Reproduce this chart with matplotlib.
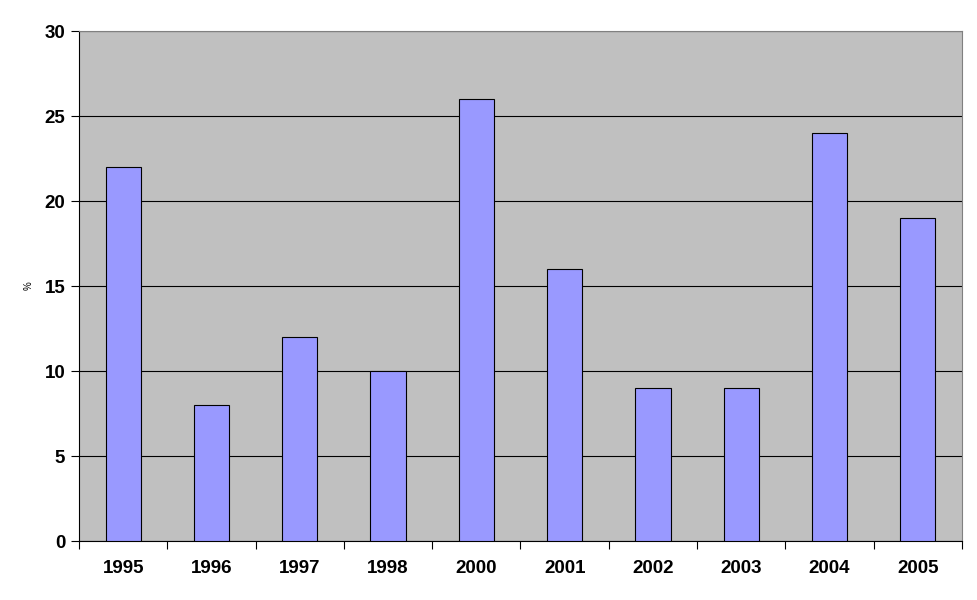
import matplotlib
matplotlib.use('Agg')
import matplotlib.pyplot as plt
import numpy as np

plt.rcParams['font.family'] = ['Liberation Sans', 'DejaVu Sans']

# datos
years = ['1995', '1996', '1997', '1998', '2000', '2001', '2002', '2003', '2004', '2005']
values = [22, 8, 12, 10, 26, 16, 9, 9, 24, 19]
yticks = [0, 5, 10, 15, 20, 25, 30]

fig = plt.figure(figsize=(9.77, 6), dpi=100)
ax = fig.add_axes([0.0809, 0.0983, 0.9037, 0.85])
ax.set_facecolor('#C0C0C0')

x = np.arange(len(years))
ax.bar(x, values, width=0.40, color='#9999FF', edgecolor='black', linewidth=0.8, zorder=3)

ax.set_xlim(-0.5, len(years) - 0.5)
ax.set_ylim(0, 30)
ax.set_yticks(yticks)
ax.set_yticklabels([str(t) for t in yticks], fontsize=13.5, fontweight='bold')
ax.yaxis.grid(True, color='black', linewidth=0.8, zorder=1)
ax.set_axisbelow(True)

# ticks del eje x entre categorias
ax.set_xticks(np.arange(len(years) + 1) - 0.5)
ax.set_xticklabels([])
ax.set_xticks(x, minor=True)
ax.set_xticklabels(years, minor=True, fontsize=13.5, fontweight='bold')
ax.tick_params(axis='x', which='minor', length=0, pad=14)
ax.tick_params(axis='x', which='major', length=6, width=0.8, direction='out')
ax.tick_params(axis='y', length=6, width=0.8, direction='out', pad=4)

ax.set_ylabel('%', fontsize=7, labelpad=8)

ax.spines['left'].set_color('black')
ax.spines['bottom'].set_color('black')
ax.spines['top'].set_color('#808080')
ax.spines['right'].set_color('#808080')

fig.savefig('out.png', dpi=100)
